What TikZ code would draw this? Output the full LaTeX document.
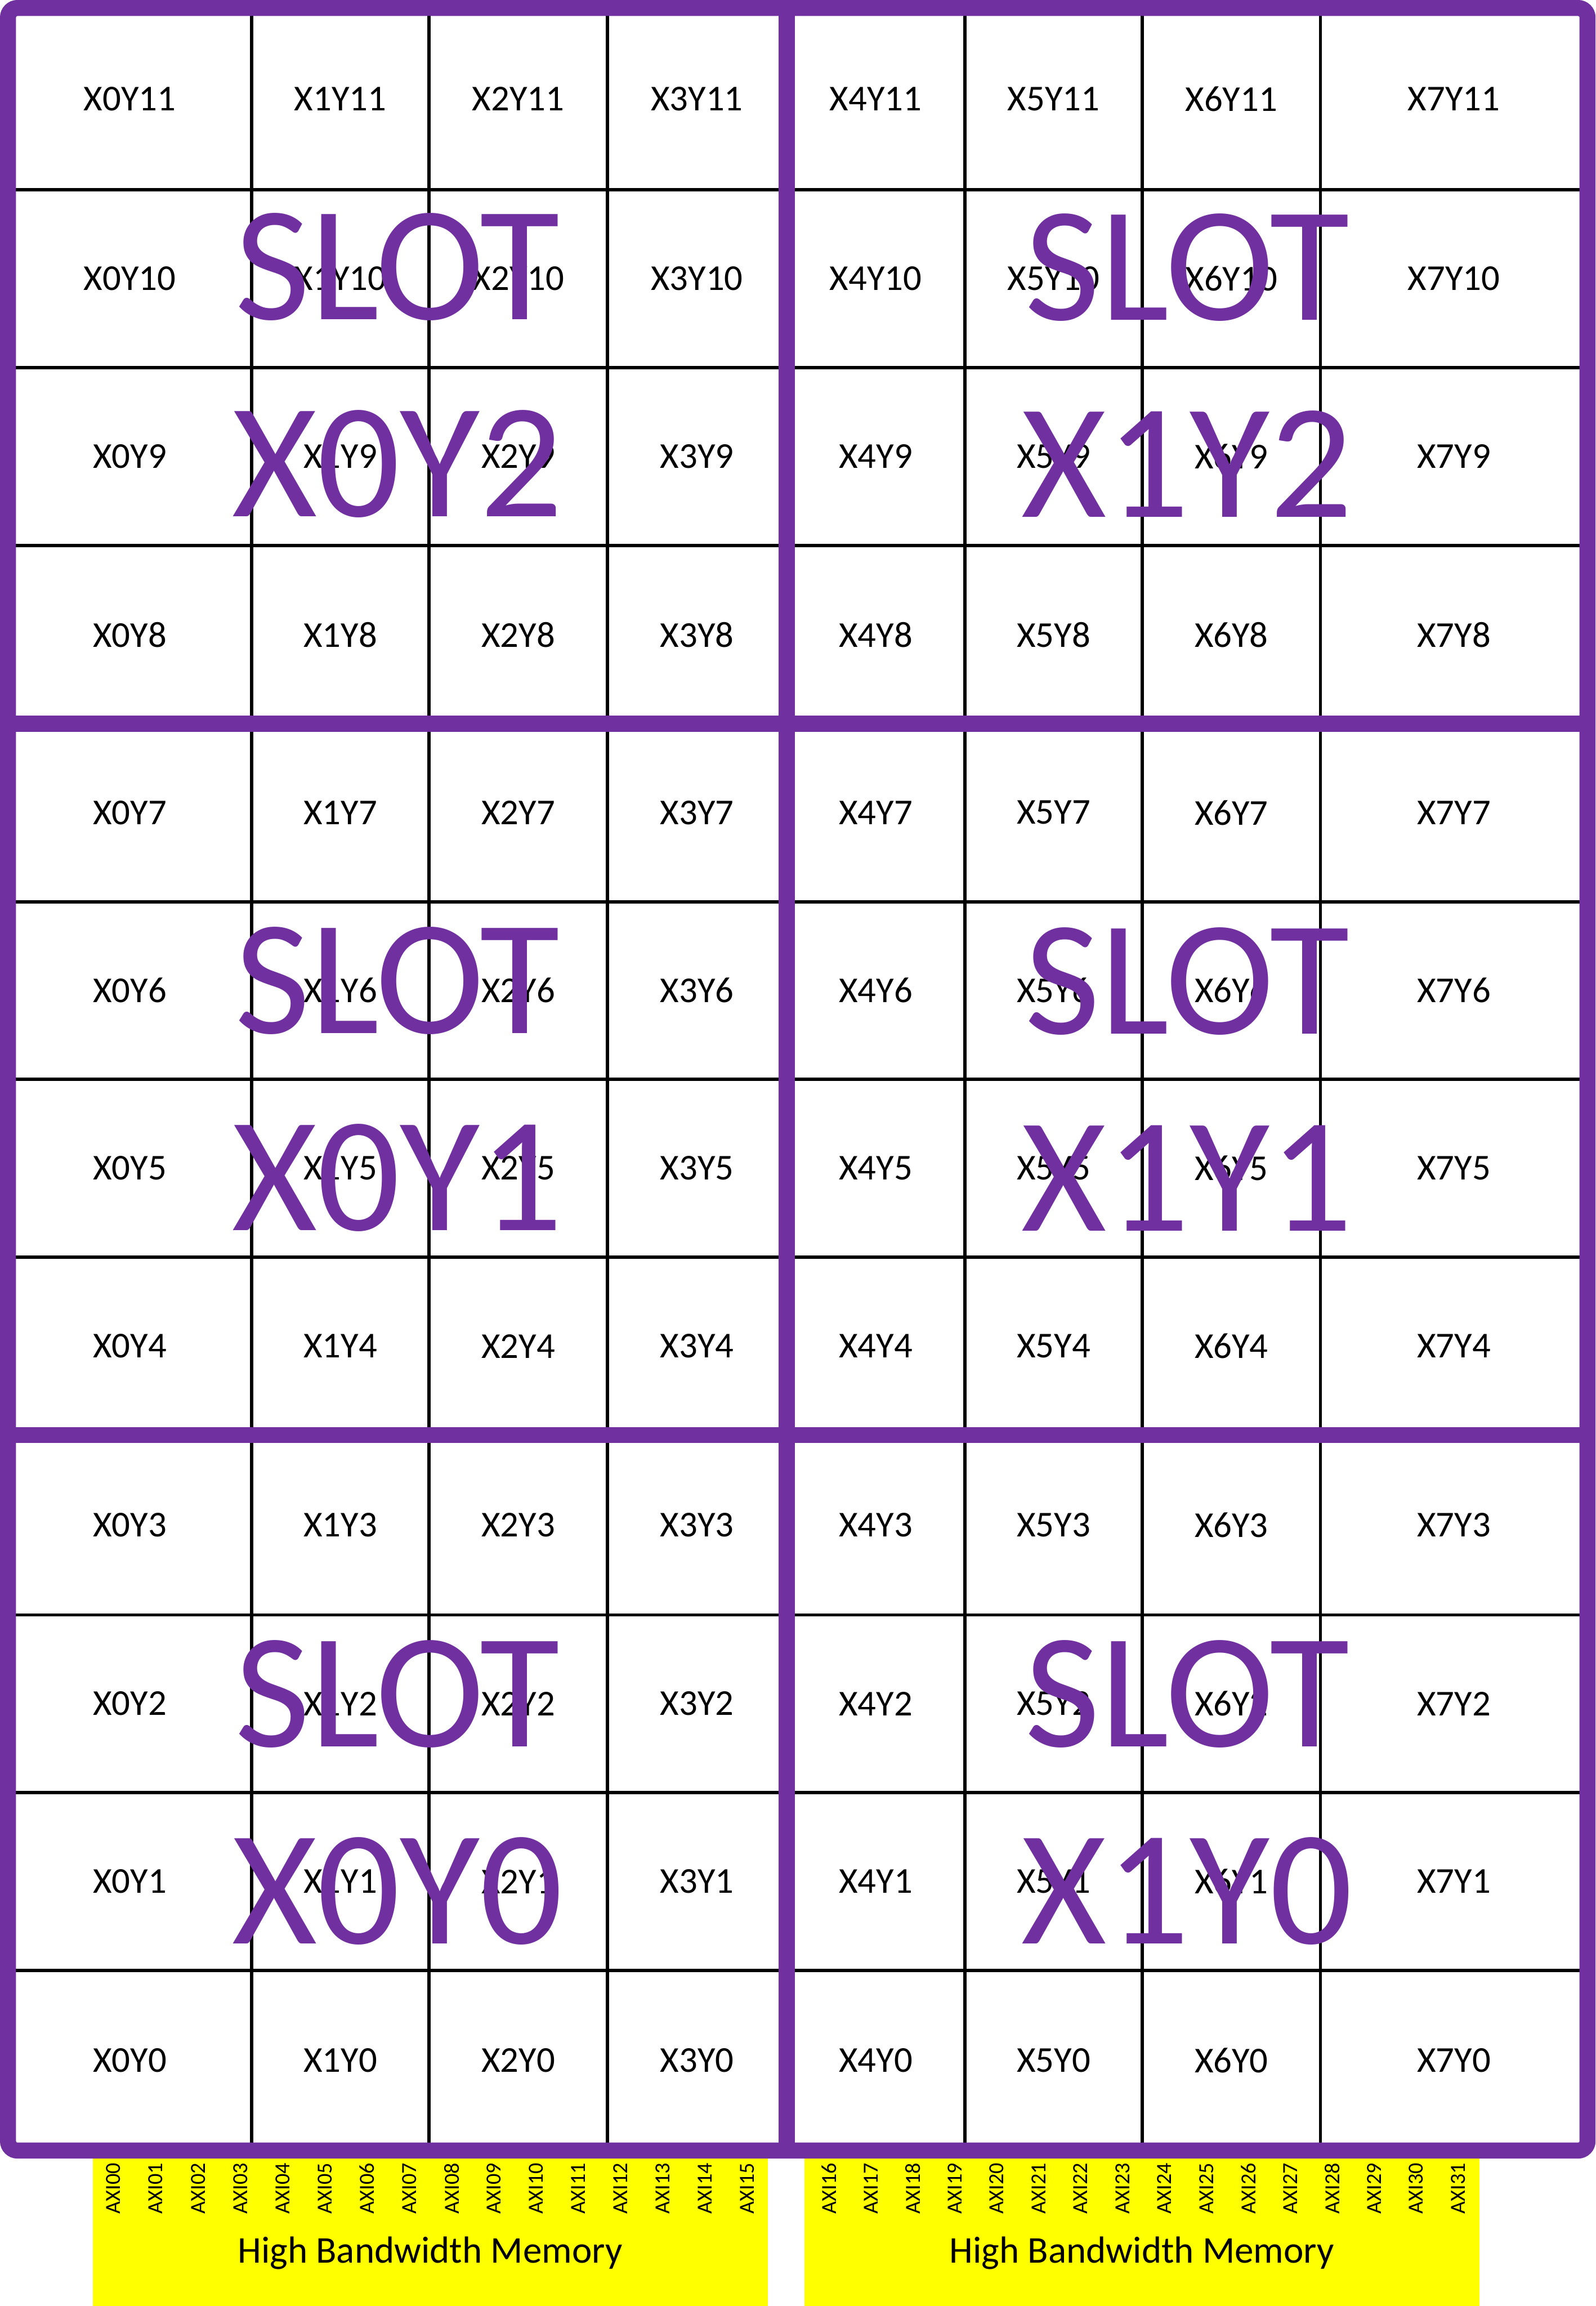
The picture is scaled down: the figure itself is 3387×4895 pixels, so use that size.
\documentclass[tikz,border=0pt]{standalone}
\usepackage{fontspec}
\setmainfont{Carlito}
\definecolor{slotpurple}{HTML}{7030A0}
\definecolor{hbmyellow}{HTML}{FFFF00}

\begin{document}
\begin{tikzpicture}[x=0.1mm, y=-0.1mm, line width=0.7mm,
  tile/.style={font=\fontsize{22}{26}\selectfont, inner sep=0pt},
  slotname/.style={font=\fontsize{99}{119}\selectfont, text=slotpurple, align=center, inner sep=0pt},
  axiport/.style={font=\fontsize{13}{15}\selectfont, rotate=90, anchor=east, inner sep=0pt},
  hbmname/.style={font=\fontsize{22.8}{26}\selectfont, inner sep=0pt},
  border/.style={draw=slotpurple, line width=3.4mm}]
  \useasboundingbox (0,0) rectangle (3387,4895);

  % memory stacks under the die
  \fill[hbmyellow] (197,4560) rectangle (1630,4895);
  \fill[hbmyellow] (1708,4560) rectangle (3140,4895);
  \node[hbmname] (hbmL) at (913,4782) {High Bandwidth Memory};
  \node[hbmname] (hbmR) at (2424,4782) {High Bandwidth Memory};
  \foreach \i in {0,...,15}
    \node[axiport] (axi\i) at ({241+89.7*\i},4588) {AXI\ifnum\i<10 0\fi\i};
  \foreach \i in {16,...,31}
    \node[axiport] (axi\i) at ({1760+89*(\i-16)},4588) {AXI\i};

  % clock regions
  \foreach \x in {534,911,1289,2048,2425,2803}
    \draw (\x,17) -- (\x,4565);
  \foreach \y in {403,780,1158,1914,2291,2669,3428,3805,4183}
    \draw (17,\y) -- (3370,\y);
  \foreach \cx/\xa/\xb in {0/17/534, 1/534/911, 2/911/1289, 3/1289/1670,
                           4/1670/2048, 5/2048/2425, 6/2425/2803, 7/2803/3370}
    \foreach \cy/\ya/\yb in {11/17/403, 10/403/780, 9/780/1158, 8/1158/1536,
                             7/1536/1914, 6/1914/2291, 5/2291/2669, 4/2669/3046,
                             3/3046/3428, 2/3428/3805, 1/3805/4183, 0/4183/4565}
      \node[tile] (c\cx-\cy) at ({(\xa+\xb)/2},{(\ya+\yb)/2}) {X\cx Y\cy};

  % slot boundaries
  \draw[border, rounded corners=2mm] (17,17) rectangle (3370,4565);
  \draw[border] (1670,17) -- (1670,4565);
  \draw[border] (17,1536) -- (3370,1536);
  \draw[border] (17,3046) -- (3370,3046);

  % slot names
  \foreach \sx/\px in {0/844, 1/2520}
    \foreach \sy/\py in {2/776, 1/2291, 0/3805}
      \node[slotname] (slot\sx-\sy) at (\px,\py) {SLOT\\X\sx Y\sy};
\end{tikzpicture}
\end{document}
